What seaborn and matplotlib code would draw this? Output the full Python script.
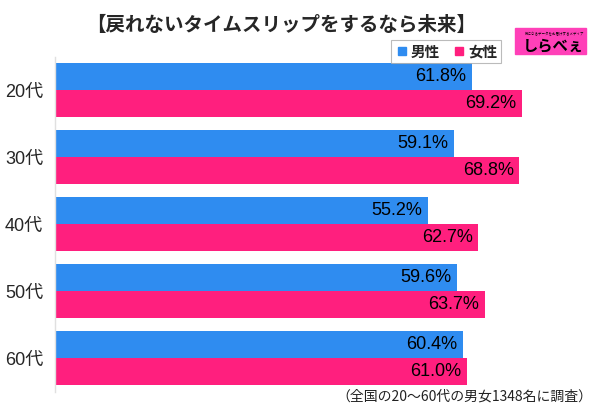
import seaborn as sns
import pandas as pd
import matplotlib.pyplot as plt
from matplotlib.lines import Line2D
from matplotlib.patches import Rectangle

ages = ['20代', '30代', '40代', '50代', '60代']
male = [61.8, 59.1, 55.2, 59.6, 60.4]
female = [69.2, 68.8, 62.7, 63.7, 61.0]
genders = ['男性', '女性']
colors = {'男性': '#2F8CF0', '女性': '#FF1F7E'}

df = pd.DataFrame({
    'age': ages * 2,
    'gender': ['男性'] * len(ages) + ['女性'] * len(ages),
    'value': male + female,
})

sns.set_style('white')
plt.rcParams['font.family'] = ['Noto Sans CJK JP', 'DejaVu Sans']
latin = ['Liberation Sans', 'Noto Sans CJK JP']

fig = plt.figure(figsize=(6, 4.13), dpi=100)
ax = fig.add_axes([55 / 600, 1 - 391.5 / 413, 540 / 600, 335 / 413])

sns.barplot(data=df, y='age', x='value', hue='gender', hue_order=genders,
            palette=colors, orient='h', linewidth=0, saturation=1,
            width=0.8, legend=False, ax=ax)

ax.set_xlim(0, 80)
ax.set_ylim(4.5, -0.5)
ax.set_xlabel('')
ax.set_ylabel('')
ax.set_xticks([])
ax.tick_params(axis='y', length=0, pad=8.5)
for lab in ax.get_yticklabels():
    lab.set_family(latin)
    lab.set_fontsize(13)
for s in ['top', 'right', 'bottom']:
    ax.spines[s].set_visible(False)
ax.spines['left'].set_color('#e0e0e0')
ax.spines['left'].set_linewidth(1)

for cont in ax.containers:
    ax.bar_label(cont, labels=[f'{v:.1f}%' for v in cont.datavalues],
                 padding=-4, fontsize=13, color='black', family=latin)
for t in ax.texts:
    t.set_horizontalalignment('right')

fig.text(281 / 600, 1 - 25 / 413, '【戻れないタイムスリップをするなら未来】', ha='center', va='center',
         fontsize=14, fontweight='bold')

handles = [Line2D([], [], marker='s', linestyle='', color=colors[g], markersize=6)
           for g in genders]
leg = fig.legend(handles, genders, loc='center', bbox_to_anchor=(446 / 600, 1 - 51.5 / 413),
                 ncol=2, fontsize=10.5, frameon=True, fancybox=False, handletextpad=0.1,
                 columnspacing=0.8, handlelength=1, borderpad=0.25)
leg.get_frame().set_edgecolor('#aaaaaa')
leg.get_frame().set_linewidth(0.8)
for t in leg.get_texts():
    t.set_fontweight('bold')

fig.patches.append(Rectangle((515 / 600, 1 - 54 / 413), 71 / 600, 26 / 413,
                             transform=fig.transFigure, color='#FF40B8', zorder=0))
fig.text(553 / 600, 1 - 45 / 413, 'しらべぇ', ha='center', va='center', fontsize=11,
         fontweight='bold', color='black')
fig.text(555 / 600, 1 - 34 / 413, '気になるデータをお届けするメディア', ha='center', va='center',
         fontsize=2.5, color='black')

fig.text(592 / 600, 1 - 397 / 413, '（全国の20〜60代の男女1348名に調査）', ha='right', va='center',
         fontsize=10, color='#222222')

fig.savefig('out.png', dpi=100)
